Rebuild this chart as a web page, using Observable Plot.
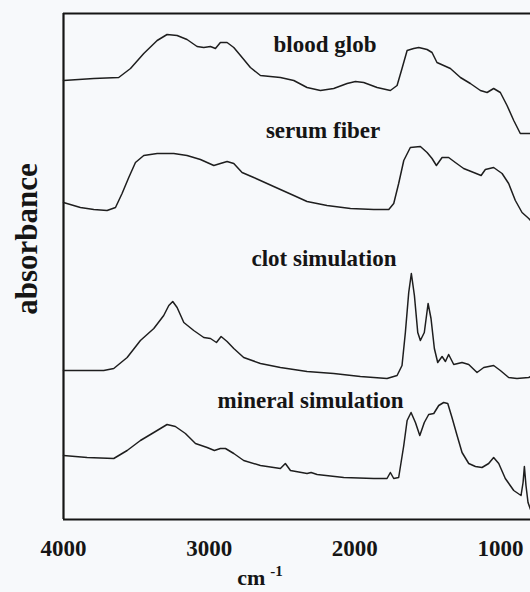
<!DOCTYPE html>
<html>
<head>
<meta charset="utf-8">
<script src="https://cdn.jsdelivr.net/npm/d3@7"></script>
<script src="https://cdn.jsdelivr.net/npm/@observablehq/plot@0.6"></script>
<style>
  html, body { margin: 0; padding: 0; background: #f7f9fb; }
  #chart svg { display: block; }
</style>
</head>
<body>
<div id="chart"></div>
<script>
// Wavenumber (cm-1), offset absorbance (arbitrary units)
const bloodGlob = [
  [4000,43.9],[3792,44.1],[3621,44.2],[3540,45.1],[3449,46.6],[3357,47.9],[3289,48.5],[3220,48.4],
  [3152,48.0],[3083,47.3],[3037,47.2],[2991,47.3],[2957,47.1],[2923,47.7],[2877,47.7],[2831,47.2],
  [2785,46.4],[2717,45.2],[2648,44.4],[2580,44.3],[2511,44.2],[2419,43.9],[2328,43.2],[2236,42.9],
  [2145,43.1],[2053,43.6],[1996,43.8],[1939,43.7],[1847,43.2],[1756,42.9],[1710,43.4],[1676,45.1],
  [1641,46.9],[1596,47.1],[1561,47.2],[1504,47.0],[1470,46.7],[1436,45.7],[1390,45.4],[1344,45.1],
  [1275,44.2],[1207,43.6],[1138,42.9],[1092,42.7],[1047,43.1],[1001,42.7],[955,41.4],[909,39.9],
  [864,38.6],[818,38.6],[794,38.6]
];
const serumFiber = [
  [4000,31.7],[3884,31.2],[3792,31.0],[3701,30.9],[3643,31.2],[3598,32.6],[3552,34.2],[3506,35.7],
  [3449,36.4],[3357,36.6],[3243,36.6],[3152,36.4],[3060,36.0],[2968,35.4],[2923,35.6],[2877,35.8],
  [2831,35.6],[2774,34.7],[2694,34.2],[2557,33.3],[2419,32.4],[2328,31.8],[2191,31.4],[2030,31.1],
  [1870,31.0],[1767,31.0],[1733,31.6],[1699,33.6],[1664,35.9],[1619,37.2],[1550,37.3],[1504,36.7],
  [1470,36.1],[1440,35.4],[1401,36.2],[1356,36.2],[1310,35.7],[1253,35.1],[1184,34.7],[1133,34.4],
  [1104,35.0],[1047,35.2],[989,34.6],[944,33.6],[898,31.9],[852,30.7],[806,30.1],[794,29.9]
];
const clotSimulation = [
  [4000,14.9],[3724,14.9],[3655,15.1],[3563,16.2],[3472,17.9],[3380,19.1],[3312,20.4],[3277,21.4],
  [3250,21.8],[3220,21.2],[3174,19.7],[3106,18.9],[3037,18.2],[2991,18.1],[2950,17.7],[2918,18.3],
  [2877,17.8],[2831,17.1],[2763,16.2],[2648,15.6],[2511,15.2],[2328,14.8],[2145,14.6],[1962,14.3],
  [1779,14.1],[1710,14.4],[1676,15.4],[1653,18.7],[1630,22.7],[1612,24.6],[1591,22.4],[1568,18.7],
  [1550,17.9],[1523,18.7],[1497,21.6],[1477,20.1],[1454,17.1],[1431,15.7],[1401,16.3],[1378,15.8],
  [1356,16.5],[1321,15.5],[1264,15.7],[1218,15.5],[1161,14.7],[1115,15.2],[1047,15.4],[1001,14.9],
  [944,14.2],[887,14.1],[806,14.2],[794,14.3]
];
const mineralSimulation = [
  [4000,6.4],[3838,6.2],[3655,6.1],[3563,6.9],[3472,7.9],[3380,8.7],[3289,9.5],[3232,9.3],
  [3163,8.6],[3094,7.6],[3014,7.2],[2964,6.9],[2923,7.1],[2888,7.1],[2831,6.6],[2763,5.9],
  [2648,5.4],[2511,5.1],[2477,5.6],[2442,4.9],[2328,4.6],[2300,4.7],[2259,4.5],[2076,4.2],
  [1870,4.1],[1779,4.1],[1756,4.7],[1733,4.1],[1699,4.2],[1664,7.4],[1641,9.9],[1614,10.7],
  [1584,9.7],[1554,8.4],[1523,9.7],[1493,10.5],[1458,10.6],[1424,11.4],[1390,11.7],[1362,11.6],
  [1333,10.2],[1298,8.4],[1264,6.7],[1218,5.6],[1172,5.3],[1127,5.2],[1081,5.6],[1047,6.2],
  [1012,5.6],[967,4.1],[909,2.9],[859,2.4],[845,3.7],[836,5.3],[825,3.4],[811,1.7],[794,1.0]
];

const seriesNames = ["blood glob", "serum fiber", "clot simulation", "mineral simulation"];
const seriesData = [bloodGlob, serumFiber, clotSimulation, mineralSimulation];
// label anchor (wavenumber, offset absorbance) for each series name
const labelWn = [2205, 2218, 2212, 2304];
const labelAbs = [47.5, 38.9, 26.1, 11.9];
const xTicks = [4000, 3000, 2000, 1000];
const xDomain = [4000, 794];
const yDomain = [0, 50.6];

const rows = seriesData.flatMap((pts, i) =>
  pts.map(([wn, a]) => ({series: seriesNames[i], wn, a})));
const labels = seriesNames.map((name, i) => ({name, wn: labelWn[i], a: labelAbs[i]}));

const font = "'Liberation Serif', 'Times New Roman', serif";
const ink = "#151515";

const plot = Plot.plot({
  width: 530,
  height: 592,
  marginLeft: 63,
  marginRight: 0,
  marginTop: 13,
  marginBottom: 73,
  x: {domain: xDomain},
  y: {domain: yDomain, axis: null},
  style: {background: "transparent", fontFamily: font, color: ink},
  marks: [
    Plot.ruleX([xDomain[0]], {stroke: ink, strokeWidth: 2.2}),
    Plot.ruleY(yDomain, {stroke: ink, strokeWidth: 2.2}),
    Plot.line(rows, {x: "wn", y: "a", z: "series", stroke: "#1e1e1e", strokeWidth: 1.5, strokeLinejoin: "round"}),
    Plot.text(labels, {x: "wn", y: "a", text: "name", fontSize: 23, fontWeight: "bold", fill: ink}),
    Plot.axisX({ticks: xTicks, tickSize: 0, tickPadding: 20, fontSize: 23, fontWeight: "bold",
      tickFormat: d => String(d), label: null, fill: ink})
  ]
});

const svg = d3.select(plot);
svg.append("text")
  .attr("transform", "translate(37,239) rotate(-90)")
  .attr("text-anchor", "middle")
  .attr("font-family", font)
  .attr("font-size", 31)
  .attr("font-weight", "bold")
  .attr("fill", ink)
  .text("absorbance");
const xl = svg.append("text")
  .attr("x", 260).attr("y", 585)
  .attr("font-family", font)
  .attr("font-size", 22)
  .attr("font-weight", "bold")
  .attr("fill", ink);
xl.append("tspan").text("cm");
xl.append("tspan").attr("dx", 5).attr("dy", -9).attr("font-size", 15).text("-1");

document.getElementById("chart").appendChild(plot);
</script>
</body>
</html>
